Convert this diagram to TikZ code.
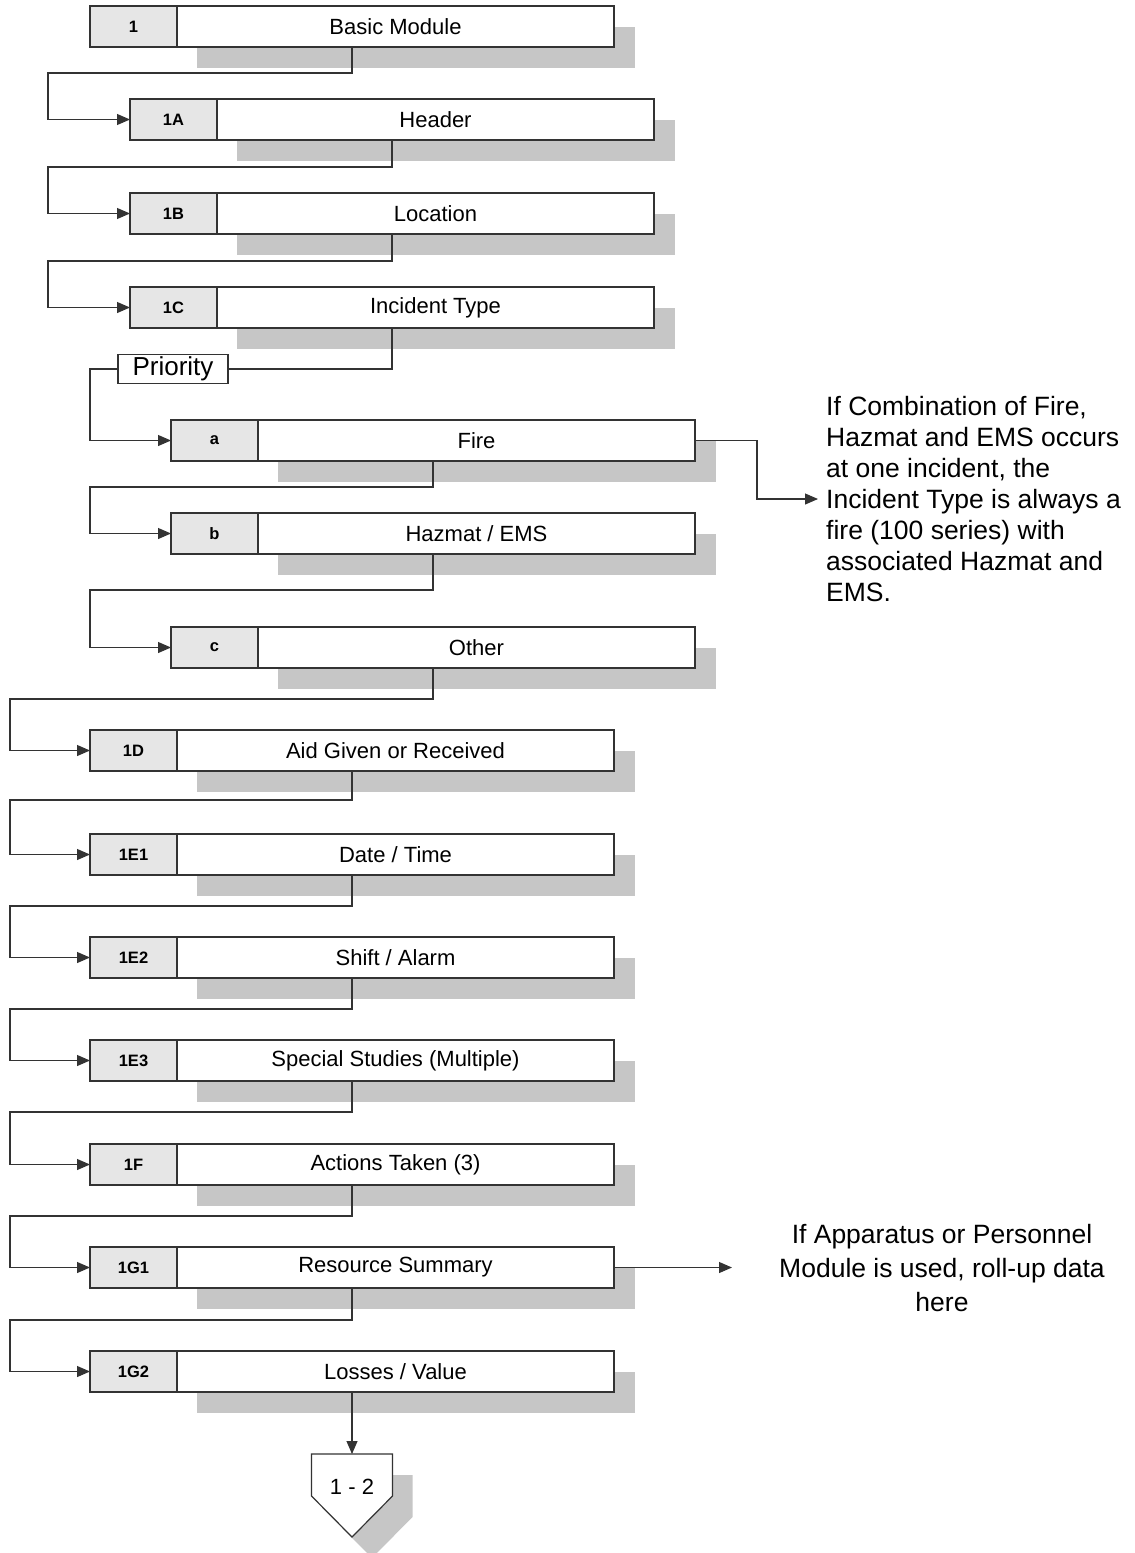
\documentclass[tikz,border=0pt]{standalone}
\usepackage{fontspec}
\setmainfont{Liberation Sans}
\usetikzlibrary{arrows.meta}
\definecolor{shade}{HTML}{C6C6C6}
\definecolor{idfill}{HTML}{E6E6E6}
\definecolor{ink}{HTML}{333333}
\tikzset{
  wholebox/.style={rectangle, minimum width=524pt, minimum height=41pt, inner sep=0pt, outer sep=0pt},
  idcell/.style={rectangle, draw=ink, line width=1.2pt, fill=idfill, minimum width=87pt, minimum height=41pt,
    inner sep=0pt, outer sep=0pt, font=\fontsize{16.5}{18}\selectfont\bfseries},
  maincell/.style={rectangle, draw=ink, line width=1.2pt, fill=white, minimum width=437pt, minimum height=41pt,
    inner sep=0pt, outer sep=0pt, font=\fontsize{22}{26}\selectfont},
  shadowfill/.style={fill=shade},
  conn/.style={draw=ink, line width=1.1pt},
  arr/.style={conn, -{Triangle[length=13pt,width=11pt]}},
  prioritybox/.style={rectangle, draw=ink, line width=1.8pt, fill=white, minimum width=110pt, minimum height=29pt,
    inner sep=0pt, font=\fontsize{26}{30}\selectfont},
  notetext/.style={inner sep=0pt, font=\fontsize{26.5}{31}\selectfont},
  restext/.style={inner sep=0pt, font=\fontsize{26.5}{34}\selectfont},
  pagetext/.style={inner sep=0pt, font=\fontsize{22}{26}\selectfont},
}
\newcommand\modbox[5]{%
  \fill[shadowfill] (#2+107,#3+21) rectangle (#2+545,#3+62);
  \node[wholebox, anchor=north west] (#1) at (#2,#3) {};
  \node[idcell, anchor=north west] (#1id) at (#2,#3) {#4};
  \node[maincell, anchor=north west] (#1m) at (#2+87,#3) {#5};
}
\begin{document}
\begin{tikzpicture}[x=1pt,y=-1pt]
\useasboundingbox (0,0) rectangle (1135,1553);
\modbox{b1}{90}{6}{1}{Basic Module}
\modbox{bA}{130}{99}{1A}{Header}
\modbox{bB}{130}{193}{1B}{Location}
\modbox{bC}{130}{287}{1C}{Incident Type}
\modbox{ba}{171}{420}{a}{Fire}
\modbox{bb}{171}{513}{b}{Hazmat / EMS}
\modbox{bc}{171}{627}{c}{Other}
\modbox{bD}{90}{730}{1D}{Aid Given or Received}
\modbox{bEa}{90}{834}{1E1}{Date / Time}
\modbox{bEb}{90}{937}{1E2}{Shift / Alarm}
\modbox{bEc}{90}{1040}{1E3}{Special Studies (Multiple)}
\modbox{bF}{90}{1144}{1F}{Actions Taken (3)}
\modbox{bGa}{90}{1247}{1G1}{Resource Summary}
\modbox{bGb}{90}{1351}{1G2}{Losses / Value}

\node[prioritybox] (pri) at (173,369) {Priority};

% off-page connector
\fill[shadowfill] (331.5,1475) -- (412.5,1475) -- (412.5,1517) -- (372,1558) -- (331.5,1517) -- cycle;
\draw[ink, line width=1.2pt, fill=white] (311.5,1454) -- (392.5,1454) -- (392.5,1496) -- (352,1537) -- (311.5,1496) -- cycle;
\coordinate (offtop) at (352,1454);
\node[pagetext] (off) at (352,1487) {1 - 2};

% connectors
\draw[arr] (b1.south) |- (48,73) |- (bA.west);
\draw[arr] (bA.south) |- (48,167) |- (bB.west);
\draw[arr] (bB.south) |- (48,261) |- (bC.west);
\draw[conn] (bC.south) |- (pri.east);
\draw[arr] (pri.west) -| (90,400) |- (ba.west);
\draw[arr] (ba.south) |- (90,487) |- (bb.west);
\draw[arr] (bb.south) |- (90,590) |- (bc.west);
\draw[arr] (bc.south) |- (10,699) |- (bD.west);
\draw[arr] (bD.south) |- (10,800) |- (bEa.west);
\draw[arr] (bEa.south) |- (10,906) |- (bEb.west);
\draw[arr] (bEb.south) |- (10,1009) |- (bEc.west);
\draw[arr] (bEc.south) |- (10,1112) |- (bF.west);
\draw[arr] (bF.south) |- (10,1216) |- (bGa.west);
\draw[arr] (bGa.south) |- (10,1320) |- (bGb.west);
\draw[arr] (bGb.south) -- (offtop);

% notes
\coordinate (noteTip) at (818,499);
\draw[arr] (bam.east) -| (757,470) |- (noteTip);
\node[notetext, align=left, anchor=north west] (note) at (826,396)
  {If Combination of Fire,\\Hazmat and EMS occurs\\at one incident, the\\Incident Type is always a\\fire (100 series) with\\associated Hazmat and\\EMS.};

\coordinate (resTip) at (732,1267.5);
\draw[arr] (bGam.east) -- (resTip);
\node[restext, align=center, anchor=north] (res) at (942,1224)
  {If Apparatus or Personnel\\Module is used, roll-up data\\here};
\end{tikzpicture}
\end{document}
